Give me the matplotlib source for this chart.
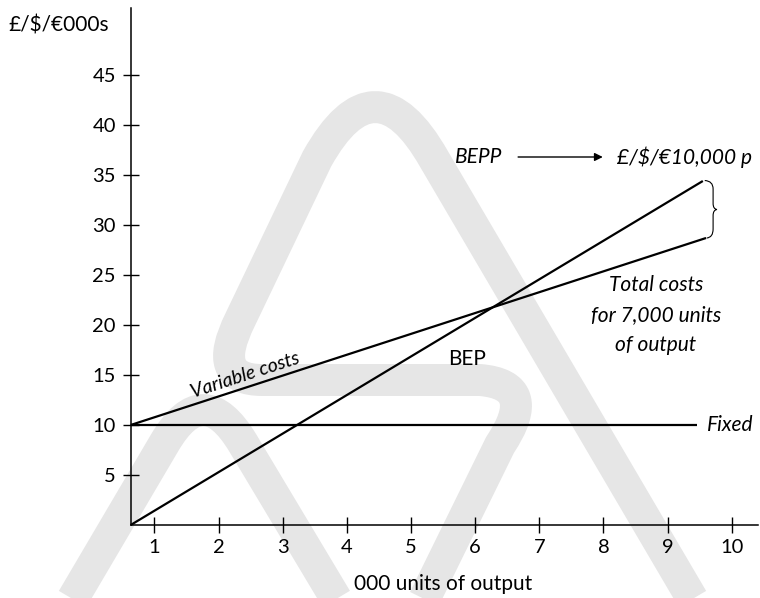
import matplotlib
matplotlib.use("Agg")
import matplotlib.pyplot as plt
from matplotlib.path import Path
from matplotlib.patches import PathPatch
import numpy as np

plt.rcParams['font.family'] = ['Lato', 'DejaVu Sans']

# ---- data -------------------------------------------------------------
x_ticks = [1, 2, 3, 4, 5, 6, 7, 8, 9, 10]
y_ticks = [5, 10, 15, 20, 25, 30, 35, 40, 45]

sales_x = [0.63, 9.55]      # total revenue line
sales_y = [0.0, 34.4]
cost_x = [0.63, 9.60]       # total costs (fixed + variable)
cost_y = [10.0, 28.7]
fixed_x = [0.63, 9.46]      # fixed costs
fixed_y = [10.0, 10.0]

# ---- figure -----------------------------------------------------------
W, H = 760, 598
fig = plt.figure(figsize=(W / 100, H / 100), dpi=100)

# light grey logo in the background (figure pixel coordinates, y down)
def fpath(verts, codes):
    v = [(x / W, 1 - y / H) for x, y in verts]
    return Path(v, codes)

M, L, Q = Path.MOVETO, Path.LINETO, Path.CURVE3
big = fpath(
    [(700, 612), (434, 159), (375, 55), (317, 159), (240, 320),
     (210, 380), (262, 380), (480, 380), (540, 385), (500, 445), (418, 612)],
    [M, L, Q, Q, L, Q, Q, L, Q, Q, L])
small = fpath(
    [(65, 612), (164.5, 443), (203, 377), (242.8, 443), (344, 612)],
    [M, L, Q, Q, L])
for p in (big, small):
    fig.add_artist(PathPatch(p, transform=fig.transFigure, fill=False,
                             edgecolor='#e6e6e6', linewidth=23,
                             capstyle='butt', joinstyle='round', zorder=-5))

ax = fig.add_axes([130.7 / W, 73 / H, (758 - 130.7) / W, (525 - 8) / H])
ax.set_facecolor('none')
ax.set_xlim(0.63, 10.41)
ax.set_ylim(0, 51.7)

for s in ('top', 'right'):
    ax.spines[s].set_visible(False)
for s in ('left', 'bottom'):
    ax.spines[s].set_linewidth(1.1)
    ax.spines[s].set_color('black')

ax.set_xticks(x_ticks)
ax.set_yticks(y_ticks)
ax.tick_params(direction='inout', length=11.5, width=1.0, labelsize=14.5,
               colors='black')
ax.tick_params(axis='x', pad=4)
ax.tick_params(axis='y', pad=5)

lw = 1.6
ax.plot(sales_x, sales_y, color='black', lw=lw, solid_capstyle='butt', clip_on=False)
ax.plot(cost_x, cost_y, color='black', lw=lw, solid_capstyle='butt', clip_on=False)
ax.plot(fixed_x, fixed_y, color='black', lw=lw, solid_capstyle='butt', clip_on=False)

# brace showing the gap between revenue and costs at the end of the lines
yt, yb = sales_y[-1], cost_y[-1]
ym = (yt + yb) / 2
xb = 9.71
brace = Path(
    [(9.58, yt + 0.05), (xb, yt), (xb, yt - 0.8), (xb, ym + 0.6),
     (xb, ym + 0.05), (xb + 0.06, ym), (xb, ym - 0.05), (xb, ym - 0.6),
     (xb, yb + 0.9), (xb, yb + 0.05), (9.61, yb)],
    [M, Q, Q, L, Q, Q, Q, Q, L, Q, Q])
ax.add_patch(PathPatch(brace, fill=False, edgecolor='black', lw=0.8,
                       clip_on=False))

# labels
fs = 15
slope = (cost_y[1] - cost_y[0]) / (cost_x[1] - cost_x[0])
p1 = ax.transData.transform((cost_x[0], cost_y[0]))
p2 = ax.transData.transform((cost_x[1], cost_y[1]))
ang = np.degrees(np.arctan2(p2[1] - p1[1], p2[0] - p1[0]))
vx = 2.45
ax.text(vx, cost_y[0] + slope * (vx - cost_x[0]) + 0.35, 'Variable costs',
        rotation=ang, rotation_mode='anchor', ha='center', va='bottom',
        fontsize=14, style='italic')

ax.text(5.87, 16.6, 'BEP', ha='center', va='center', fontsize=fs)
ax.text(6.43, 36.8, 'BEPP', ha='right', va='center', fontsize=fs, style='italic')
ax.annotate('', xy=(7.99, 36.8), xytext=(6.67, 36.8),
            arrowprops=dict(arrowstyle='-|>', color='black', lw=1.0,
                            mutation_scale=12, shrinkA=0, shrinkB=0))
ax.text(8.21, 36.8, '£/$/€10,000 p', ha='left', va='center', fontsize=fs,
        style='italic', clip_on=False)

ax.text(8.82, 21.0, 'Total costs\nfor 7,000 units\nof output', ha='center',
        va='center', multialignment='center', fontsize=fs, style='italic',
        linespacing=1.6)
ax.text(9.62, 10.0, 'Fixed', ha='left', va='center', fontsize=fs, style='italic',
        clip_on=False)

fig.text(8 / W, 1 - 25 / H, '£/$/€000s', ha='left', va='center', fontsize=fs)
fig.text(443 / W, 1 - 584 / H, '000 units of output', ha='center', va='center',
         fontsize=fs)

fig.savefig('out.png', dpi=100)
